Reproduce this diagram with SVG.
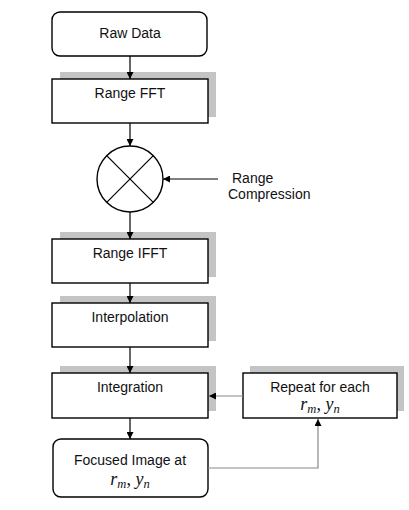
<svg xmlns="http://www.w3.org/2000/svg" width="409" height="510" viewBox="0 0 409 510">
<defs>
<style>
.box{fill:#fff;stroke:#000;stroke-width:1.4}
.sh{fill:#c4c4c4}
.t{font-family:"Liberation Sans",Arial,sans-serif;font-size:14px;fill:#111;text-anchor:middle}
.m{font-family:"Liberation Serif","Times New Roman",serif;font-style:italic;font-size:18px;fill:#111;text-anchor:middle}
.sub{font-size:12.5px}
.c{fill:none;stroke:#000;stroke-width:1.2}
.g{fill:none;stroke:#888;stroke-width:1.2}
</style>
<marker id="ah" viewBox="0 0 8 8" refX="8" refY="4" markerWidth="7" markerHeight="7" markerUnits="userSpaceOnUse" orient="auto">
<path d="M0,0 L8,4 L0,8 z" fill="#000"/>
</marker>
</defs>
<rect width="409" height="510" fill="#fff"/>
<g id="raw-data">
<rect class="box" x="52" y="12" width="155" height="44" rx="8"/>
<text class="t" x="130" y="38">Raw Data</text>
</g>
<g id="range-fft">
<rect class="sh" x="60" y="72" width="156" height="45"/>
<rect class="box" x="52" y="79" width="156" height="44"/>
<text class="t" x="130" y="98">Range FFT</text>
</g>
<g id="multiplier">
<circle class="box" cx="130" cy="179" r="33"/>
<line x1="106.7" y1="155.7" x2="153.3" y2="202.3" stroke="#000" stroke-width="1.2"/>
<line x1="153.3" y1="155.7" x2="106.7" y2="202.3" stroke="#000" stroke-width="1.2"/>
</g>
<g id="range-compression">
<text class="t" style="text-anchor:start" x="232" y="183">Range</text>
<text class="t" style="text-anchor:start" x="228" y="199">Compression</text>
</g>
<g id="range-ifft">
<rect class="sh" x="60" y="232" width="156" height="45"/>
<rect class="box" x="52" y="239" width="156" height="44"/>
<text class="t" x="130" y="258">Range IFFT</text>
</g>
<g id="interpolation">
<rect class="sh" x="60" y="296" width="156" height="45"/>
<rect class="box" x="52" y="303" width="156" height="44"/>
<text class="t" x="130" y="322">Interpolation</text>
</g>
<g id="integration">
<rect class="sh" x="60" y="366" width="156" height="45"/>
<rect class="box" x="52" y="373" width="156" height="45"/>
<text class="t" x="130" y="392">Integration</text>
</g>
<g id="repeat">
<rect class="sh" x="250" y="366" width="154" height="45"/>
<rect class="box" x="243" y="373" width="154" height="45"/>
<text class="t" x="320" y="392">Repeat for each</text>
<text class="m" x="320" y="410">r<tspan class="sub" dy="3">m</tspan><tspan dy="-3" font-style="normal">, </tspan>y<tspan class="sub" dy="3">n</tspan></text>
</g>
<g id="focused-image">
<rect class="box" x="53" y="439" width="155" height="58" rx="8"/>
<text class="t" x="130" y="465">Focused Image at</text>
<text class="m" x="130" y="485">r<tspan class="sub" dy="3">m</tspan><tspan dy="-3" font-style="normal">, </tspan>y<tspan class="sub" dy="3">n</tspan></text>
</g>
<g id="connectors">
<line class="c" x1="130" y1="56" x2="130" y2="79" marker-end="url(#ah)"/>
<line class="c" x1="130" y1="123" x2="130" y2="146" marker-end="url(#ah)"/>
<line class="c" x1="218" y1="179" x2="163" y2="179" marker-end="url(#ah)"/>
<line class="c" x1="130" y1="212" x2="130" y2="239" marker-end="url(#ah)"/>
<line class="c" x1="130" y1="283" x2="130" y2="303" marker-end="url(#ah)"/>
<line class="c" x1="130" y1="347" x2="130" y2="373" marker-end="url(#ah)"/>
<line class="c" x1="130" y1="418" x2="130" y2="439" marker-end="url(#ah)"/>
<line class="g" x1="243" y1="396" x2="209" y2="396" marker-end="url(#ah)"/>
<polyline class="g" points="208,468 318,468 318,419" marker-end="url(#ah)"/>
</g>
</svg>
